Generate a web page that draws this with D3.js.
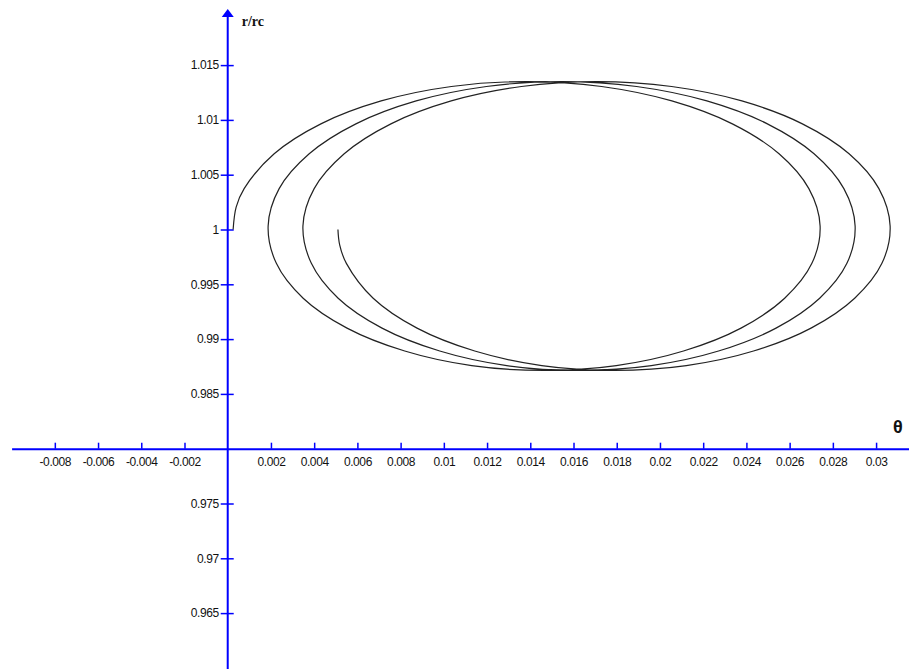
<!DOCTYPE html>
<html>
<head>
<meta charset="utf-8">
<script src="https://cdn.jsdelivr.net/npm/d3@7"></script>
<style>
    html, body { margin: 0; padding: 0; background: #fff; }
    svg { display: block; }
</style>
</head>
<body>
<div id="orbit-plot"></div>
<script>
// theta / r, in drawing order (3 loops of the spiral)
var thetaValues = [
    0.00025, 0.00039, 0.00076, 0.00215, 0.00431, 0.00710, 0.01035, 0.01383, 0.01730, 0.02055, 0.02335, 0.02551, 0.02689,
    0.02741, 0.02703, 0.02577, 0.02375, 0.02109, 0.01798, 0.01464, 0.01129, 0.00819, 0.00552, 0.00349, 0.00225,
    0.00187, 0.00238, 0.00377, 0.00593, 0.00872, 0.01197, 0.01545, 0.01892, 0.02217, 0.02497, 0.02713, 0.02851,
    0.02903, 0.02865, 0.02739, 0.02537, 0.02271, 0.01960, 0.01626, 0.01291, 0.00981, 0.00714, 0.00511, 0.00387,
    0.00348, 0.00400, 0.00539, 0.00755, 0.01034, 0.01359, 0.01707, 0.02054, 0.02379, 0.02659, 0.02875, 0.03013,
    0.03065, 0.03027, 0.02901, 0.02699, 0.02433, 0.02122, 0.01788, 0.01453, 0.01143, 0.00876, 0.00673, 0.00549,
    0.00518, 0.00510
];
var rValues = [
    1.00000, 1.00204, 1.00373, 1.00691, 1.00964, 1.01173, 1.01305, 1.01350, 1.01305, 1.01173, 1.00964, 1.00691, 1.00373,
    1.00032, 0.99691, 0.99373, 0.99100, 0.98891, 0.98758, 0.98714, 0.98758, 0.98891, 0.99100, 0.99373, 0.99691,
    1.00032, 1.00373, 1.00691, 1.00964, 1.01173, 1.01305, 1.01350, 1.01305, 1.01173, 1.00964, 1.00691, 1.00373,
    1.00032, 0.99691, 0.99373, 0.99100, 0.98891, 0.98758, 0.98714, 0.98758, 0.98891, 0.99100, 0.99373, 0.99691,
    1.00032, 1.00373, 1.00691, 1.00964, 1.01173, 1.01305, 1.01350, 1.01305, 1.01173, 1.00964, 1.00691, 1.00373,
    1.00032, 0.99691, 0.99373, 0.99100, 0.98891, 0.98758, 0.98714, 0.98758, 0.98891, 0.99100, 0.99373, 0.99691,
    0.99860, 1.00000
];

var xTickValues = [-0.008, -0.006, -0.004, -0.002, 0.002, 0.004, 0.006, 0.008, 0.01, 0.012, 0.014,
    0.016, 0.018, 0.02, 0.022, 0.024, 0.026, 0.028, 0.03];
var yTickValues = [0.965, 0.97, 0.975, 0.985, 0.99, 0.995, 1, 1.005, 1.01, 1.015];

var xLabel = "θ";
var yLabel = "r/rc";

(function () {

    function go() {
        var width = 909;
        var height = 669;
        var blue = "#0000ff";

        d3.select("#orbit-plot")
            .append("svg:svg")
            .attr("id", "mySvgOrbit");

        var svg = d3.select("#mySvgOrbit")
            .attr("width", width)
            .attr("height", height);

        var x = d3.scaleLinear().domain([-0.01, 0.0315]).range([11.6, 908.5]);
        var y = d3.scaleLinear().domain([0.96, 1.02]).range([667.9, 10.3]);

        var x0 = x(0);
        var y0 = y(0.98);

        var fmt = function (d) { return String(+d.toFixed(4)); };

        // horizontal axis (crosses at r = 0.98)
        var gx = svg.append("g")
            .attr("transform", "translate(0," + y0 + ")")
            .call(d3.axisBottom(x).tickValues(xTickValues).tickFormat(fmt).tickSize(6).tickSizeOuter(0));
        gx.select(".domain").attr("stroke", blue).attr("stroke-width", 2);
        gx.selectAll(".tick line").attr("y1", 0).attr("y2", -6).attr("stroke", blue).attr("stroke-width", 1.5);
        gx.selectAll(".tick text")
            .attr("y", 9)
            .attr("fill", "#111")
            .attr("font-family", "Liberation Sans, Arial, sans-serif")
            .attr("font-size", 12)
            .attr("letter-spacing", "-0.4px");
        gx.attr("font-family", null).attr("font-size", null);

        // vertical axis (crosses at theta = 0)
        var gy = svg.append("g")
            .attr("transform", "translate(" + x0 + ",0)")
            .call(d3.axisLeft(y).tickValues(yTickValues).tickFormat(fmt).tickSize(7).tickPadding(2).tickSizeOuter(0));
        gy.select(".domain").remove();
        gy.selectAll(".tick line").attr("x1", 6).attr("x2", -7).attr("stroke", blue).attr("stroke-width", 1.5);
        gy.selectAll(".tick text")
            .attr("fill", "#111")
            .attr("font-family", "Liberation Sans, Arial, sans-serif")
            .attr("font-size", 12)
            .attr("letter-spacing", "-0.4px");
        gy.attr("font-family", null).attr("font-size", null);

        svg.append("line")
            .attr("x1", x0).attr("x2", x0)
            .attr("y1", height).attr("y2", 14)
            .attr("stroke", blue)
            .attr("stroke-width", 2);
        svg.append("path")
            .attr("d", "M" + x0 + ",9 L" + (x0 - 6) + ",17 L" + (x0 + 6) + ",17 Z")
            .attr("fill", blue);

        svg.append("text")
            .attr("x", x0 + 14)
            .attr("y", 26)
            .attr("font-family", "Liberation Serif, Times New Roman, serif")
            .attr("font-weight", "bold")
            .attr("font-size", 14)
            .attr("fill", "#111")
            .text(yLabel);

        svg.append("text")
            .attr("x", 893)
            .attr("y", 433)
            .attr("font-family", "Liberation Sans, Arial, sans-serif")
            .attr("font-weight", "bold")
            .attr("font-size", 18)
            .attr("fill", "#111")
            .text(xLabel);

        var points = thetaValues.map(function (t, i) { return [t, rValues[i]]; });

        var line = d3.line()
            .x(function (d) { return x(d[0]); })
            .y(function (d) { return y(d[1]); })
            .curve(d3.curveCatmullRom.alpha(0.5));

        svg.append("path")
            .datum(points)
            .attr("d", line)
            .attr("fill", "none")
            .attr("stroke", "#222")
            .attr("stroke-width", 1.2);
    }

    document.addEventListener("DOMContentLoaded", function (event) {
        go();
    });

}());
</script>
</body>
</html>
